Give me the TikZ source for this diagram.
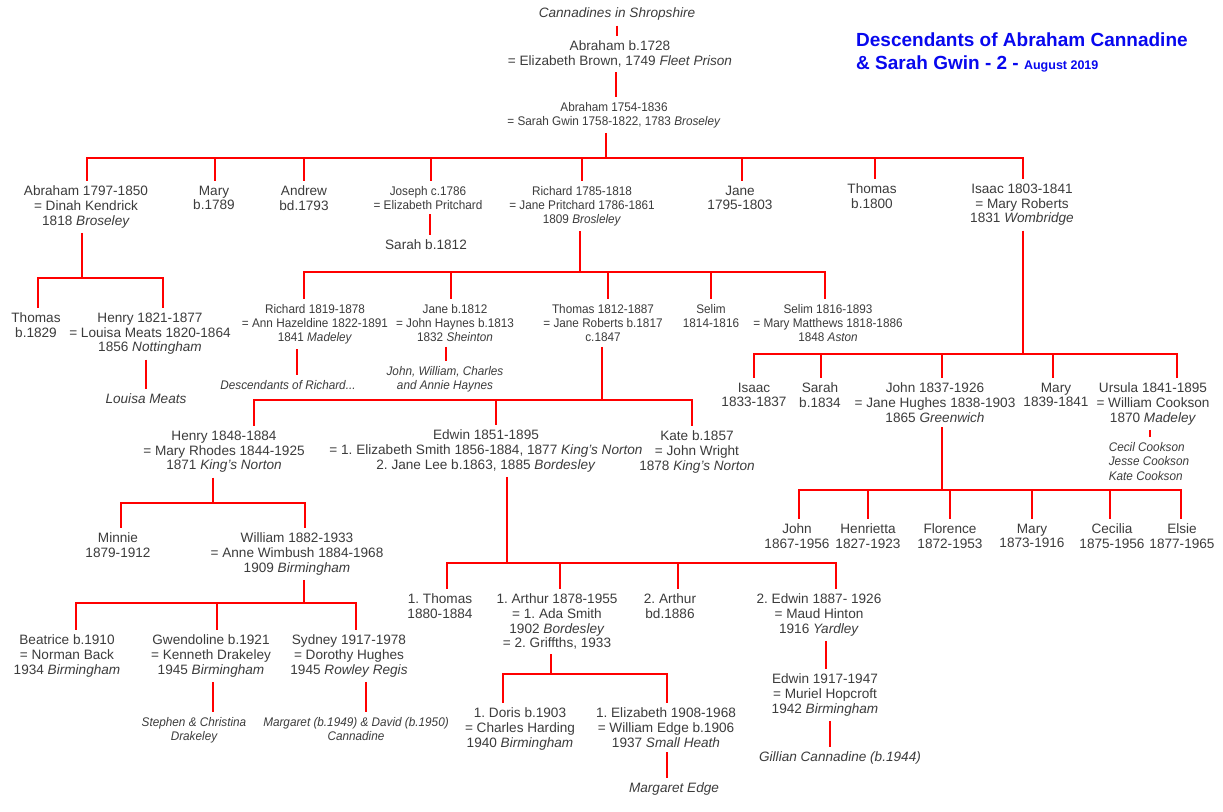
\documentclass[tikz,border=0pt]{standalone}
\usepackage{fontspec}
\setmainfont{Liberation Sans}
\newfontfamily\smallfam[FakeStretch=0.94]{Liberation Sans}
\definecolor{txt}{HTML}{3C3C3C}
\definecolor{lnred}{HTML}{FF0000}
\definecolor{ttlblue}{HTML}{0808EE}
\frenchspacing
\tikzset{
  person/.style={anchor=north, yshift=11pt, align=center, inner xsep=1pt, inner ysep=1pt,
    outer ysep=4pt, outer xsep=0pt, text=txt, font=\fontsize{13.6}{14.6}\selectfont},
  small/.style={person, font=\smallfam\fontsize{12.5}{14.3}\selectfont},
  smallit/.style={person, font=\smallfam\itshape\fontsize{12.5}{14.6}\selectfont},
  normit/.style={person, font=\itshape\fontsize{13.6}{14.6}\selectfont},
  link/.style={draw=lnred, line width=1.5pt},
}
% family: #1 parent, #2 stem x, #3 bar y, #4 bar left x, #5 bar right x, #6 child/x list
\newcommand\famline[6]{%
  \coordinate (bar-#1) at (#2,#3);
  \draw[link] (#2,0 |- #1.south) -- (bar-#1);
  \draw[link, line cap=rect] (#4,#3) -- (#5,#3);
  \foreach \c/\x in {#6} {\draw[link] (\x,#3) -- (\x,0 |- \c.north);}
}
\newcommand\oneline[3]{\draw[link] (#3,0 |- #1.south) -- (#3,0 |- #2.north);}
\begin{document}
\begin{tikzpicture}[x=1pt, y=-1pt]
\fill[white] (0,0) rectangle (1223,811);
\useasboundingbox (0,0) rectangle (1223,811);

% title
\node[anchor=north west, inner sep=0, align=left, text=ttlblue,
  font=\bfseries\fontsize{19}{23}\selectfont] (title) at (856,33)
  {Descendants of Abraham Cannadine\\\& Sarah Gwin - 2 - {\fontsize{12.5}{23}\selectfont August 2019}};

% top
\node[normit] (shrop) at (617,14) {Cannadines in Shropshire};
\node[person] (ab1) at (620,47) {Abraham b.1728\\= Elizabeth Brown, 1749 \textit{Fleet Prison}};
\node[small] (ab2) at (614,108) {Abraham 1754-1836\\= Sarah Gwin 1758-1822, 1783 \textit{Broseley}};

% generation 2
\node[person] (g1) at (86,192) {Abraham 1797-1850\\= Dinah Kendrick\\1818 \textit{Broseley}};
\node[person] (g2) at (214,192) {Mary\\b.1789};
\node[person] (g3) at (304,192) {Andrew\\bd.1793};
\node[small] (g4) at (428,192) {Joseph c.1786\\= Elizabeth Pritchard};
\node[small] (g5) at (582,192) {Richard 1785-1818\\= Jane Pritchard 1786-1861\\1809 \textit{Brosleley}};
\node[person] (g6) at (740,192) {Jane\\1795-1803};
\node[person] (g7) at (872,190) {Thomas\\b.1800};
\node[person] (g8) at (1022,190) {Isaac 1803-1841\\= Mary Roberts\\1831 \textit{Wombridge}};
\node[person] (sarah) at (426,246) {Sarah b.1812};

% Abraham 1797's children
\node[person] (th29) at (36,319) {Thomas\\b.1829};
\node[person] (he21) at (150,319) {Henry 1821-1877\\= Louisa Meats 1820-1864\\1856 \textit{Nottingham}};
\node[normit] (louisa) at (146,400) {Louisa Meats};

% Richard 1785's children
\node[small] (ri19) at (315,310) {Richard 1819-1878\\= Ann Hazeldine 1822-1891\\1841 \textit{Madeley}};
\node[small] (ja12) at (455,310) {Jane b.1812\\= John Haynes b.1813\\1832 \textit{Sheinton}};
\node[small] (th12) at (603,310) {Thomas 1812-1887\\= Jane Roberts b.1817\\c.1847};
\node[small] (se14) at (711,310) {Selim\\1814-1816};
\node[small] (se16) at (828,310) {Selim 1816-1893\\= Mary Matthews 1818-1886\\1848 \textit{Aston}};
\node[smallit] (desR) at (288,386) {Descendants of Richard...};
\node[smallit] (jwc) at (445,372) {John, William, Charles\\and Annie Haynes};

% Thomas 1812's children
\node[person] (he48) at (224,437) {Henry 1848-1884\\= Mary Rhodes 1844-1925\\1871 \textit{King's Norton}};
\node[person] (ed51) at (486,436) {Edwin 1851-1895\\= 1. Elizabeth Smith 1856-1884, 1877 \textit{King's Norton}\\2. Jane Lee b.1863, 1885 \textit{Bordesley}};
\node[person] (ka57) at (697,437) {Kate b.1857\\= John Wright\\1878 \textit{King's Norton}};

% Isaac's children
\node[person] (is33) at (754,389) {Isaac\\1833-1837};
\node[person] (sa34) at (820,389) {Sarah\\b.1834};
\node[person] (jo37) at (935,389) {John 1837-1926\\= Jane Hughes 1838-1903\\1865 \textit{Greenwich}};
\node[person] (ma39) at (1056,389) {Mary\\1839-1841};
\node[person] (ur41) at (1153,389) {Ursula 1841-1895\\= William Cookson\\1870 \textit{Madeley}};
\node[smallit, align=left] (cook) at (1149,448) {Cecil Cookson\\Jesse Cookson\\Kate Cookson};

% John 1837's children
\node[person] (jo67) at (797,530) {John\\1867-1956};
\node[person] (hen) at (868,530) {Henrietta\\1827-1923};
\node[person] (flo) at (950,530) {Florence\\1872-1953};
\node[person] (ma73) at (1032,530) {Mary\\1873-1916};
\node[person] (cec) at (1112,530) {Cecilia\\1875-1956};
\node[person] (els) at (1182,530) {Elsie\\1877-1965};

% Henry 1848's children
\node[person] (min) at (118,539) {Minnie\\1879-1912};
\node[person] (wi82) at (297,539) {William 1882-1933\\= Anne Wimbush 1884-1968\\1909 \textit{Birmingham}};

% William's children
\node[person] (bea) at (67,641) {Beatrice b.1910\\= Norman Back\\1934 \textit{Birmingham}};
\node[person] (gwe) at (211,641) {Gwendoline b.1921\\= Kenneth Drakeley\\1945 \textit{Birmingham}};
\node[person] (syd) at (349,641) {Sydney 1917-1978\\= Dorothy Hughes\\1945 \textit{Rowley Regis}};
\node[smallit] (ste) at (194,723) {Stephen \& Christina\\Drakeley};
\node[smallit] (mar) at (356,723) {Margaret (b.1949) \& David (b.1950)\\Cannadine};

% Edwin 1851's children
\node[person] (th80) at (440,600) {1. Thomas\\1880-1884};
\node[person] (ar78) at (557,600) {1. Arthur 1878-1955\\= 1. Ada Smith\\1902 \textit{Bordesley}\\= 2. Griffths, 1933};
\node[person] (ar86) at (670,600) {2. Arthur\\bd.1886};
\node[person] (ed87) at (819,600) {2. Edwin 1887- 1926\\= Maud Hinton\\1916 \textit{Yardley}};

% Arthur's children
\node[person] (dor) at (520,714) {1. Doris b.1903\\= Charles Harding\\1940 \textit{Birmingham}};
\node[person] (eli) at (666,714) {1. Elizabeth 1908-1968\\= William Edge b.1906\\1937 \textit{Small Heath}};
\node[normit] (med) at (674,789) {Margaret Edge};
\node[person] (ed17) at (825,680) {Edwin 1917-1947\\= Muriel Hopcroft\\1942 \textit{Birmingham}};
\node[normit] (gil) at (840,758) {Gillian Cannadine (b.1944)};

% connectors
\oneline{shrop}{ab1}{617}
\oneline{ab1}{ab2}{616}
\famline{ab2}{606}{158}{87}{1023}{g1/87,g2/215,g3/304,g4/431,g5/582,g6/742,g7/875,g8/1023}
\oneline{g4}{sarah}{430}
\famline{g1}{82}{278}{38}{163}{th29/38,he21/163}
\oneline{he21}{louisa}{146}
\famline{g5}{580}{272}{304}{825}{ri19/304,ja12/451,th12/608,se14/711,se16/825}
\oneline{ri19}{desR}{297}
\oneline{ja12}{jwc}{446}
\famline{th12}{602}{400}{254}{692}{he48/254,ed51/496,ka57/692}
\famline{g8}{1023}{354}{754}{1177}{is33/754,sa34/821,jo37/942,ma39/1053,ur41/1177}
\oneline{ur41}{cook}{1150}
\famline{jo37}{942}{490}{799}{1181}{jo67/799,hen/868,flo/950,ma73/1032,cec/1110,els/1181}
\famline{he48}{213}{503}{121}{305}{min/121,wi82/305}
\famline{wi82}{304}{603}{76}{356}{bea/76,gwe/217,syd/356}
\oneline{gwe}{ste}{213}
\oneline{syd}{mar}{366}
\famline{ed51}{507}{563}{447}{836}{th80/447,ar78/560,ar86/678,ed87/836}
\famline{ar78}{551}{674}{503}{667}{dor/503,eli/667}
\oneline{eli}{med}{667}
\oneline{ed87}{ed17}{826}
\oneline{ed17}{gil}{830}
\end{tikzpicture}
\end{document}
